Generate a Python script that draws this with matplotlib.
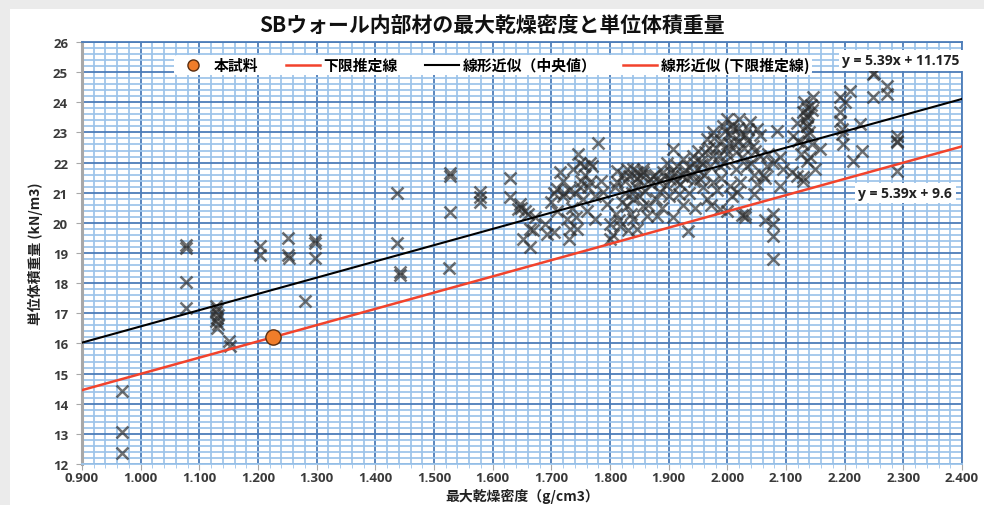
import matplotlib
matplotlib.use("Agg")
import matplotlib.pyplot as plt
from matplotlib.lines import Line2D
from matplotlib.patches import Rectangle
from matplotlib.ticker import MultipleLocator, FormatStrFormatter

plt.rcParams['font.family'] = ['Noto Sans CJK JP', 'DejaVu Sans']

# Measured samples: maximum dry density (g/cm3) and unit weight (kN/m3)
density = [
    0.968, 0.968, 0.968,
    1.077, 1.077, 1.077, 1.077,
    1.128, 1.130, 1.128, 1.132, 1.130, 1.128, 1.132, 1.130,
    1.150, 1.152,
    1.203, 1.203,
    1.251, 1.251, 1.253,
    1.280,
    1.297, 1.297, 1.297,
    1.437, 1.437, 1.442, 1.442,
    1.528, 1.528, 1.528, 1.525,
    1.578, 1.578, 1.578,
    1.630, 1.630,
    1.643, 1.655, 1.660, 1.664, 1.652, 1.664, 1.668, 1.693, 1.690, 1.672, 1.648, 1.647,
    1.710, 1.710, 1.720, 1.715, 1.727, 1.732, 1.744, 1.730, 1.749, 1.754, 1.766, 1.774,
    1.745, 1.749, 1.766, 1.737, 1.780, 1.788, 1.795, 1.700, 1.705, 1.720, 1.735, 1.740,
    1.758, 1.760, 1.770, 1.785, 1.705, 1.742, 1.775, 1.755, 1.730,
    1.800, 1.800, 1.812, 1.812, 1.817, 1.829, 1.840, 1.846, 1.840, 1.829, 1.840, 1.846,
    1.863, 1.856, 1.856, 1.856, 1.810, 1.820, 1.825, 1.835, 1.845, 1.850, 1.815, 1.830,
    1.805, 1.825, 1.850, 1.838, 1.860,
    1.873, 1.902, 1.885, 1.880, 1.907, 1.933, 1.907, 1.924, 1.941, 1.948, 1.953, 1.870,
    1.878, 1.890, 1.895, 1.900, 1.910, 1.915, 1.920, 1.925, 1.930, 1.935, 1.940, 1.945,
    1.888, 1.898, 1.918, 1.928, 1.865, 1.950,
    1.965, 1.975, 1.993, 2.000, 2.010, 2.020, 2.039, 2.050, 1.975, 1.987, 1.975, 1.965,
    1.987, 2.004, 2.016, 2.021, 2.033, 2.044, 2.056, 1.960, 1.970, 1.980, 1.990, 1.995,
    2.000, 2.005, 2.012, 2.015, 2.025, 2.030, 2.035, 2.040, 2.045, 2.050, 2.055, 2.000,
    2.008, 1.983, 1.958, 2.025, 2.030, 2.030, 2.045, 1.968, 1.990, 2.060, 2.020, 1.972,
    2.068, 2.078, 2.085, 2.090, 2.078, 2.078, 2.078, 2.078, 2.065, 2.070, 2.095, 2.090, 2.065,
    2.119, 2.129, 2.112, 2.129, 2.136, 2.146, 2.135, 2.135, 2.135, 2.135, 2.129, 2.158,
    2.141, 2.129, 2.120, 2.118, 2.140, 2.145, 2.125, 2.130, 2.142, 2.110, 2.150, 2.135,
    2.192, 2.209, 2.192, 2.192, 2.195, 2.197, 2.226, 2.230, 2.214, 2.248, 2.250, 2.272,
    2.272, 2.248, 2.289, 2.289, 2.290, 2.289, 2.196, 2.200,
    1.868, 1.876, 1.884, 1.892, 1.904, 1.912, 1.922, 1.934, 1.943, 1.955, 1.962, 1.978,
    1.985, 1.997, 2.003, 2.014, 2.022, 2.036, 2.048, 1.846, 1.853, 1.833, 1.822, 1.808,
    1.996, 2.008, 2.018, 2.028, 1.956, 1.944, 2.138, 2.132, 2.144, 1.750, 1.762, 1.722,
]
unit_weight = [
    14.42, 13.05, 12.35,
    19.25, 19.15, 18.05, 17.18,
    17.25, 17.15, 17.05, 16.95, 16.85, 16.75, 16.65, 16.50,
    16.08, 15.90,
    19.22, 18.92,
    19.50, 18.95, 18.85,
    17.42,
    19.42, 19.32, 18.85,
    20.98, 19.33, 18.38, 18.28,
    21.65, 21.55, 20.36, 18.50,
    21.02, 20.85, 20.70,
    21.50, 20.86,
    20.46, 20.38, 20.30, 19.80, 19.47, 19.20, 19.75, 19.63, 19.96, 20.20, 20.50, 20.63,
    20.40, 21.12, 20.90, 21.69, 20.13, 19.80, 19.80, 19.45, 21.19, 20.80, 21.36, 20.13,
    22.28, 22.00, 22.00, 21.80, 22.65, 21.02, 20.63, 20.70, 21.00, 21.40, 20.50, 21.00,
    21.60, 20.40, 21.90, 21.40, 19.70, 20.20, 20.90, 21.90, 21.10,
    19.96, 19.47, 21.72, 21.36, 19.90, 21.79, 21.79, 21.69, 20.80, 20.56, 20.13, 19.80,
    20.23, 21.69, 21.79, 20.56, 20.30, 20.70, 21.00, 20.30, 21.20, 20.90, 20.10, 19.75,
    19.60, 21.40, 21.40, 21.00, 21.05,
    21.56, 21.46, 21.02, 20.23, 20.20, 19.73, 22.45, 22.12, 22.22, 21.79, 21.46, 21.30,
    20.80, 21.70, 21.25, 20.90, 21.65, 21.90, 21.30, 20.60, 21.50, 21.00, 21.60, 20.50,
    20.50, 22.00, 20.95, 21.75, 20.60, 22.40,
    22.78, 23.00, 23.20, 23.45, 23.10, 23.45, 23.35, 23.10, 22.22, 21.89, 21.36, 20.80,
    20.46, 21.22, 21.02, 21.36, 21.89, 22.55, 22.22, 21.60, 21.90, 22.50, 22.70, 22.00,
    22.30, 22.90, 22.60, 21.80, 22.20, 22.90, 23.10, 22.00, 21.60, 21.30, 22.90, 20.40,
    20.90, 21.10, 21.20, 20.25, 20.20, 20.30, 20.95, 22.50, 21.50, 21.60, 22.70, 20.60,
    21.89, 22.00, 23.05, 21.22, 20.30, 19.96, 19.56, 18.80, 21.50, 22.30, 21.80, 22.20, 20.10,
    21.56, 21.52, 22.88, 23.68, 23.20, 24.18, 23.80, 23.50, 23.20, 22.90, 22.62, 22.45,
    22.19, 21.39, 22.70, 23.30, 23.00, 22.60, 22.30, 24.00, 23.90, 21.70, 21.80, 22.05,
    24.18, 24.38, 23.68, 23.38, 22.95, 22.62, 23.28, 22.38, 22.05, 24.94, 24.96, 24.54,
    24.27, 24.18, 22.88, 22.68, 22.72, 21.72, 23.10, 24.00,
    21.45, 21.60, 21.35, 21.55, 21.70, 21.40, 21.55, 21.85, 21.40, 22.05, 22.35, 22.80,
    22.25, 22.45, 22.65, 22.35, 22.95, 22.75, 22.40, 21.50, 21.60, 21.55, 21.60, 21.20,
    23.05, 23.25, 23.15, 22.50, 21.95, 22.00, 23.60, 23.40, 23.75, 21.40, 21.20, 21.00,
]

# This specimen
specimen_density = [1.226]
specimen_weight = [16.21]

# Linear fits (slope, intercept): central value and lower-bound estimate
fit_slope = 5.39
fit_intercept_center = 11.175
fit_intercept_lower = 9.6

x_range = [0.9, 2.4]
x_ticks_fmt = "%.3f"

W, H = 984, 506
fig = plt.figure(figsize=(W / 100, H / 100), dpi=100)
fig.patch.set_facecolor('#ebebeb')
fig.add_artist(Rectangle((10 / W, 0), 1, (H - 10) / H, transform=fig.transFigure,
                         facecolor='white', edgecolor='none', zorder=0))

ax = fig.add_axes([82 / W, 41 / H, 880 / W, 422 / H])
ax.set_facecolor('white')
ax.set_xlim(*x_range)
ax.set_ylim(12, 26)

major_c = '#4d7db9'
minor_c = '#9cc4ea'
ax.xaxis.set_major_locator(MultipleLocator(0.1))
ax.xaxis.set_minor_locator(MultipleLocator(0.02))
ax.yaxis.set_major_locator(MultipleLocator(1))
ax.yaxis.set_minor_locator(MultipleLocator(0.2))
ax.xaxis.set_major_formatter(FormatStrFormatter(x_ticks_fmt))
ax.grid(which='minor', color=minor_c, lw=1.25, zorder=0)
ax.grid(which='major', color=major_c, lw=1.3, zorder=0)
ax.set_axisbelow(True)

for side in ('top', 'right'):
    ax.spines[side].set_color(major_c)
    ax.spines[side].set_linewidth(1.3)
ax.spines['left'].set_color('#a8a8a8')
ax.spines['left'].set_linewidth(2.2)
ax.spines['bottom'].set_color(minor_c)
ax.spines['bottom'].set_linewidth(1.3)

ax.tick_params(axis='x', which='major', direction='out', length=4, color='#a8a8a8',
               pad=1, labelsize=9.5, labelcolor='#3a3a3a')
ax.tick_params(axis='x', which='minor', direction='out', length=3, color=minor_c)
ax.tick_params(axis='y', which='major', direction='out', length=4, color='#a8a8a8',
               pad=6, labelsize=9.5, labelcolor='#3a3a3a')
ax.tick_params(axis='y', which='minor', length=0)
for lab in ax.get_xticklabels() + ax.get_yticklabels():
    lab.set_fontweight('bold')
    lab.set_family(['Open Sans', 'DejaVu Sans'])

# Fit lines
y_center = [fit_slope * x + fit_intercept_center for x in x_range]
y_lower = [fit_slope * x + fit_intercept_lower for x in x_range]
ax.plot(x_range, y_center, color='black', lw=1.5, zorder=4)
ax.plot(x_range, y_lower, color='#f2432c', lw=1.8, zorder=4)

# Samples
ax.plot(density, unit_weight, linestyle='none', marker='x', markersize=8.5,
        markeredgewidth=1.8, color='#2e2e2e', alpha=0.68, zorder=3)

# This specimen
ax.plot(specimen_density, specimen_weight, linestyle='none', marker='o',
        markersize=11, markerfacecolor='#f07d2a', markeredgecolor='#5a2e10',
        markeredgewidth=1.0, zorder=5)

# Legend
handles = [
    Line2D([], [], linestyle='none', marker='o', markersize=8,
           markerfacecolor='#f07d2a', markeredgecolor='#5a2e10'),
    Line2D([], [], color='#f2432c', lw=1.8),
    Line2D([], [], color='black', lw=1.5),
    Line2D([], [], color='#f2432c', lw=1.8),
]
labels = ['本試料', '下限推定線', '線形近似（中央値）', '線形近似 (下限推定線)']
leg = fig.legend(handles, labels, loc='center left',
                 bbox_to_anchor=(174 / W, 1 - 66 / H), ncol=4,
                 prop={'family': ['Noto Sans CJK JP', 'DejaVu Sans'],
                       'weight': 'bold', 'size': 10.7},
                 frameon=True, facecolor='white', edgecolor='none', framealpha=1,
                 handlelength=2.3, handletextpad=0.25, columnspacing=1.8,
                 borderpad=0.15, borderaxespad=0)
leg.set_zorder(6)

# Fit equations
eq_kw = dict(fontsize=10, fontweight='bold', color='#222222', ha='center', va='center',
             family=['Open Sans', 'DejaVu Sans'], zorder=7,
             bbox=dict(facecolor='white', edgecolor='none', pad=2.5))
ax.text(2.296, 25.40, f"y = {fit_slope}x + {fit_intercept_center}", **eq_kw)
ax.text(2.303, 20.99, f"y = {fit_slope}x + {fit_intercept_lower}", **eq_kw)

# Titles
fig.text(492 / W, 1 - 25 / H, 'SBウォール内部材の最大乾燥密度と単位体積重量',
         ha='center', va='center', fontsize=15, fontweight='bold', color='#111111')
fig.text(522 / W, 1 - 497 / H, '最大乾燥密度（g/cm3）', ha='center', va='center',
         fontsize=10, fontweight='bold', color='#222222')
fig.text(35 / W, 1 - 254 / H, '単位体積重量 (kN/m3)', ha='center', va='center',
         rotation=90, fontsize=10, fontweight='bold', color='#222222')

fig.savefig('out.png', dpi=100)
